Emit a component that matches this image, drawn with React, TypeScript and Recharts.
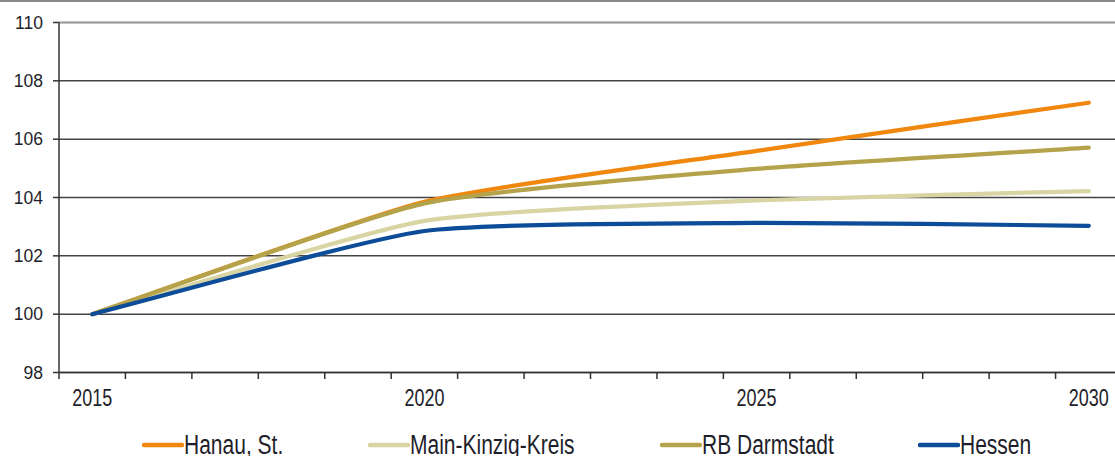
import React from "react";
import { LineChart, Line, XAxis, YAxis, CartesianGrid, ReferenceLine } from "recharts";

const years = [2015, 2020, 2025, 2030];
const hanau = [100, 103.85, 105.6, 107.25];
const mainKinzig = [100, 103.2, 103.9, 104.22];
const rbDarmstadt = [100, 103.8, 104.98, 105.71];
const hessen = [100, 102.85, 103.13, 103.03];

const seriesNames = ["Hanau, St.", "Main-Kinzig-Kreis", "RB Darmstadt", "Hessen"];
const seriesKeys = ["hanau", "mainKinzig", "rbDarmstadt", "hessen"];
const seriesColors = ["#F0870F", "#D9D4A3", "#B4A34A", "#0C4C98"];

const xLabelYears = [2015, 2020, 2025, 2030];
const yTicks = [98, 100, 102, 104, 106, 108, 110];

const data = years.map((y, i) => ({
  year: y,
  hanau: hanau[i],
  mainKinzig: mainKinzig[i],
  rbDarmstadt: rbDarmstadt[i],
  hessen: hessen[i],
}));

const boundaries: number[] = [];
for (let y = years[0]; y <= years[years.length - 1] + 1; y++) boundaries.push(y - 0.5);
const xTicks = [...boundaries, ...xLabelYears].sort((a, b) => a - b);

const FONT = "'Liberation Sans', Arial, sans-serif";

// Gentle smoothing curve (spreadsheet-like smoothed line with low tension)
const softCurve = (context: any) => {
  let pts: [number, number][] = [];
  const S = 0.55;
  return {
    areaStart() {},
    areaEnd() {},
    lineStart() {
      pts = [];
    },
    point(x: number, y: number) {
      pts.push([+x, +y]);
    },
    lineEnd() {
      const n = pts.length;
      if (n === 0) return;
      context.moveTo(pts[0][0], pts[0][1]);
      if (n === 1) return;
      const tan = pts.map((p, i) => {
        if (i === 0) return [pts[1][0] - p[0], pts[1][1] - p[1]];
        if (i === n - 1) return [p[0] - pts[i - 1][0], p[1] - pts[i - 1][1]];
        return [(pts[i + 1][0] - pts[i - 1][0]) / 2, (pts[i + 1][1] - pts[i - 1][1]) / 2];
      });
      for (let i = 0; i < n - 1; i++) {
        const p = pts[i];
        const q = pts[i + 1];
        context.bezierCurveTo(
          p[0] + (tan[i][0] * S) / 3,
          p[1] + (tan[i][1] * S) / 3,
          q[0] - (tan[i + 1][0] * S) / 3,
          q[1] - (tan[i + 1][1] * S) / 3,
          q[0],
          q[1]
        );
      }
    },
  };
};

const XTick = (props: any) => {
  const { x, y, payload } = props;
  const v = payload.value;
  if (!Number.isInteger(v)) {
    return <line x1={x} x2={x} y1={y} y2={y + 6.5} stroke="#333" strokeWidth={1.5} />;
  }
  return (
    <g transform={`translate(${x},${y + 33.5}) scale(1,1.29)`}>
      <text x={0} y={0} textAnchor="middle" fontSize={18} fill="#1e1e2a" fontFamily={FONT}>
        {v}
      </text>
    </g>
  );
};

const legendItemWidths = [226, 292, 258, 160];

export default function App() {
  return (
    <div
      style={{
        position: "absolute",
        left: 0,
        top: 0,
        width: 1115,
        height: 456,
        overflow: "hidden",
        background: "#fff",
        fontFamily: FONT,
      }}
    >
      <div style={{ position: "absolute", left: 0, top: 0, width: 1115, height: 1.5, background: "#8a8a8a" }} />
      <LineChart
        width={1130}
        height={456}
        data={data}
        margin={{ top: 22.5, right: 8, bottom: 0, left: 0 }}
        style={{ fontFamily: FONT }}
      >
        <CartesianGrid vertical={false} stroke="#444" strokeWidth={1.5} />
        <ReferenceLine y={110} stroke="#9a9a9a" strokeWidth={1.6} />
        <XAxis
          dataKey="year"
          type="number"
          domain={[years[0] - 0.5, years[years.length - 1] + 0.5]}
          ticks={xTicks}
          interval={0}
          tickLine={false}
          tickSize={0}
          tickMargin={0}
          tick={<XTick />}
          axisLine={{ stroke: "#333", strokeWidth: 1.5 }}
          height={83.5}
        />
        <YAxis
          domain={[98, 110]}
          ticks={yTicks}
          interval={0}
          width={59}
          tickSize={6}
          tickMargin={10}
          tickLine={{ stroke: "#333", strokeWidth: 1.5 }}
          axisLine={{ stroke: "#333", strokeWidth: 1.5 }}
          tick={{ fontSize: 17.5, fill: "#1e1e2a", fontFamily: FONT }}
        />
        {seriesKeys.map((k, i) => (
          <Line
            key={k}
            dataKey={k}
            name={seriesNames[i]}
            type={softCurve as any}
            stroke={seriesColors[i]}
            strokeWidth={4.2}
            strokeLinecap="round"
            dot={false}
            activeDot={false}
            isAnimationActive={false}
          />
        ))}
      </LineChart>
      <div
        style={{
          position: "absolute",
          left: 142,
          top: 430,
          display: "flex",
          alignItems: "flex-start",
          whiteSpace: "nowrap",
        }}
      >
        {seriesNames.map((n, i) => (
          <div key={n} style={{ width: legendItemWidths[i], display: "flex", alignItems: "center", height: 30 }}>
            <svg width={42} height={30} style={{ display: "block" }}>
              <line x1={2} x2={40} y1={15} y2={15} stroke={seriesColors[i]} strokeWidth={4.5} strokeLinecap="round" />
            </svg>
            <span
              style={{
                fontSize: 21,
                color: "#1e1e2a",
                display: "inline-block",
                transform: "scaleY(1.33)",
                transformOrigin: "left center",
                lineHeight: "30px",
              }}
            >
              {n}
            </span>
          </div>
        ))}
      </div>
    </div>
  );
}
